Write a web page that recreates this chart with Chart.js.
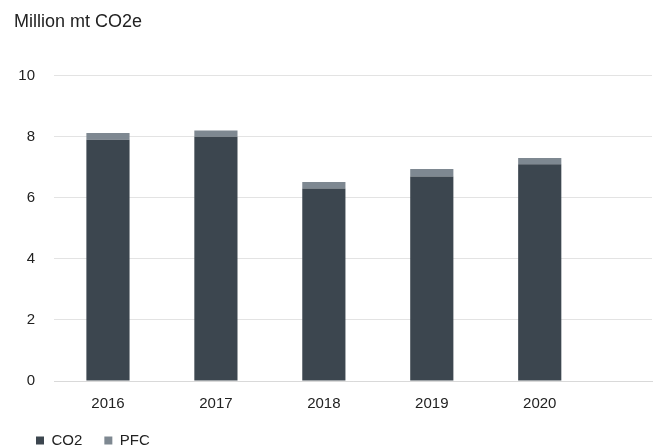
<!DOCTYPE html>
<html>
<head>
<meta charset="utf-8">
<script src="https://cdn.jsdelivr.net/npm/chart.js@4/dist/chart.umd.min.js"></script>
<style>
    html, body { margin: 0; padding: 0; background: #fff; }
    #wrap { width: 661px; height: 448px; }
</style>
</head>
<body>
<div id="wrap"><canvas id="emissionsChart" width="661" height="448"></canvas></div>
<script>
const years = ["2016", "2017", "2018", "2019", "2020"];
const co2Values = [7.9, 8.0, 6.3, 6.7, 7.1];
const pfcValues = [0.22, 0.2, 0.22, 0.24, 0.2];
const yTicks = [0, 2, 4, 6, 8, 10];

const FONT = "'Liberation Sans', Arial, sans-serif";

function toPoints(values) {
    return values.map((v, i) => ({ x: i, y: v }));
}

const ctx = document.getElementById("emissionsChart");

new Chart(ctx, {
    type: "bar",
    data: {
        datasets: [
            {
                label: "CO2",
                data: toPoints(co2Values),
                backgroundColor: "#3c464f",
                borderWidth: 0,
                categoryPercentage: 1,
                barPercentage: 0.4
            },
            {
                label: "PFC",
                data: toPoints(pfcValues),
                backgroundColor: "#7e8891",
                borderWidth: 0,
                categoryPercentage: 1,
                barPercentage: 0.4
            }
        ]
    },
    options: {
        responsive: false,
        animation: false,
        layout: {
            // negative bottom: the legend's lower padding hangs off the canvas
            padding: { left: 14, right: 9, top: 0, bottom: -10 }
        },
        plugins: {
            title: {
                display: true,
                text: "Million mt CO2e",
                align: "start",
                color: "#222",
                font: { family: FONT, size: 18, weight: "normal" },
                padding: { top: 11, bottom: 43 }
            },
            legend: {
                position: "bottom",
                align: "start",
                labels: {
                    boxWidth: 8,
                    boxHeight: 8,
                    padding: 22,
                    color: "#222",
                    font: { family: FONT, size: 15 }
                }
            },
            tooltip: { enabled: false }
        },
        scales: {
            x: {
                type: "linear",
                stacked: true,
                offset: false,
                min: -0.5,
                max: 5.04,
                afterBuildTicks: scale => {
                    scale.ticks = years.map((_, i) => ({ value: i }));
                },
                afterFit: scale => {
                    scale.height = 30;
                },
                ticks: {
                    color: "#222",
                    font: { family: FONT, size: 15 },
                    padding: 6,
                    callback: value => years[value]
                },
                grid: { display: false },
                border: { color: "#d9d9d9" }
            },
            y: {
                stacked: true,
                min: 0,
                max: 10,
                afterBuildTicks: scale => {
                    scale.ticks = yTicks.map(v => ({ value: v }));
                },
                afterFit: scale => {
                    scale.width = 40;
                },
                ticks: {
                    color: "#222",
                    font: { family: FONT, size: 15 },
                    padding: 19
                },
                grid: {
                    color: "#e3e3e3",
                    drawTicks: false
                },
                border: { display: false }
            }
        }
    }
});
</script>
</body>
</html>
